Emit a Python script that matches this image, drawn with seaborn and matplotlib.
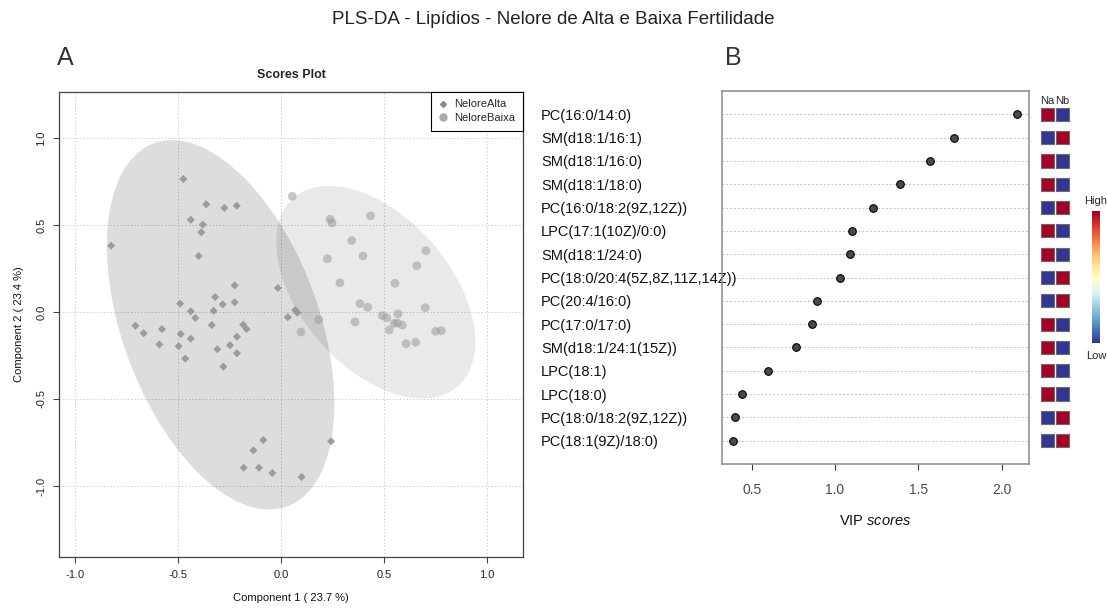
import numpy as np
import pandas as pd
import matplotlib
matplotlib.use("Agg")
import matplotlib.pyplot as plt
import seaborn as sns
from matplotlib.patches import Ellipse
from matplotlib.lines import Line2D
from matplotlib.cm import ScalarMappable
from matplotlib.colors import Normalize

# ---------------- data ----------------
groups = ["NeloreAlta", "NeloreBaixa"]

alta_x = [-0.474, -0.363, -0.275, -0.215, -0.438, -0.380, -0.387, -0.825, -0.400, -0.225,
          -0.320, -0.283, -0.225, -0.490, -0.438, -0.327, -0.416, -0.707, -0.667, -0.578,
          -0.336, -0.184, -0.167, -0.487, -0.438, -0.214, -0.591, -0.497, -0.309, -0.248,
          -0.214, -0.465, -0.280, -0.134, -0.181, -0.107, -0.015, 0.069, 0.079, 0.033,
          -0.086, -0.042, 0.100, 0.243]
alta_y = [0.764, 0.619, 0.598, 0.611, 0.530, 0.502, 0.458, 0.381, 0.322, 0.153,
          0.086, 0.044, 0.056, 0.048, 0.004, 0.007, -0.034, -0.079, -0.122, -0.098,
          -0.075, -0.073, -0.098, -0.126, -0.153, -0.142, -0.186, -0.197, -0.214, -0.191,
          -0.237, -0.268, -0.314, -0.795, -0.895, -0.895, 0.138, 0.011, -0.004, -0.030,
          -0.736, -0.925, -0.948, -0.743]

baixa_x = [0.055, 0.238, 0.248, 0.435, 0.343, 0.704, 0.225, 0.398, 0.659, 0.286,
           0.553, 0.383, 0.421, 0.700, 0.183, 0.097, 0.359, 0.492, 0.513, 0.568,
           0.550, 0.565, 0.589, 0.526, 0.607, 0.654, 0.751, 0.778]
baixa_y = [0.665, 0.533, 0.513, 0.553, 0.410, 0.352, 0.306, 0.322, 0.266, 0.168,
           0.165, 0.048, 0.027, 0.025, -0.044, -0.115, -0.057, -0.021, -0.033, -0.011,
           -0.065, -0.063, -0.075, -0.103, -0.182, -0.174, -0.111, -0.107]

score_ticks = [-1.0, -0.5, 0.0, 0.5, 1.0]
score_ticklabels = ["-1.0", "-0.5", "0.0", "0.5", "1.0"]

lipids = ["PC(16:0/14:0)", "SM(d18:1/16:1)", "SM(d18:1/16:0)", "SM(d18:1/18:0)",
          "PC(16:0/18:2(9Z,12Z))", "LPC(17:1(10Z)/0:0)", "SM(d18:1/24:0)",
          "PC(18:0/20:4(5Z,8Z,11Z,14Z))", "PC(20:4/16:0)", "PC(17:0/17:0)",
          "SM(d18:1/24:1(15Z))", "LPC(18:1)", "LPC(18:0)", "PC(18:0/18:2(9Z,12Z))",
          "PC(18:1(9Z)/18:0)"]
vip = [2.094, 1.712, 1.570, 1.390, 1.230, 1.102, 1.092, 1.032, 0.890, 0.864,
       0.764, 0.600, 0.444, 0.402, 0.390]
na_level = [1, 0, 1, 1, 0, 1, 1, 0, 0, 1, 1, 1, 1, 0, 0]
nb_level = [0, 1, 0, 0, 1, 0, 0, 1, 1, 0, 0, 0, 0, 1, 1]
heat_cols = ["Na", "Nb"]
vip_ticks = [0.5, 1.0, 1.5, 2.0]
vip_ticklabels = ["0.5", "1.0", "1.5", "2.0"]

# ---------------- style ----------------
sns.set_theme(style="white")
plt.rcParams["font.family"] = ["Liberation Sans", "DejaVu Sans"]
plt.rcParams["mathtext.fontset"] = "custom"
plt.rcParams["mathtext.rm"] = "Liberation Sans"
plt.rcParams["mathtext.it"] = "Liberation Sans:italic"

W, H = 1107, 609
fig = plt.figure(figsize=(W / 100, H / 100), dpi=100)


def rect(l, t, r, b):
    return [l / W, 1 - b / H, (r - l) / W, (b - t) / H]


def conf_ellipse(x, y, chi2=5.991):
    x = np.asarray(x)
    y = np.asarray(y)
    cov = np.cov(x, y)
    vals, vecs = np.linalg.eigh(cov)
    order = vals.argsort()[::-1]
    vals, vecs = vals[order], vecs[:, order]
    angle = np.degrees(np.arctan2(vecs[1, 0], vecs[0, 0]))
    w, h = 2 * np.sqrt(chi2 * vals)
    return (x.mean(), y.mean()), w, h, angle


fig.text(0.5, 1 - 20 / H, "PLS-DA - Lipídios - Nelore de Alta e Baixa Fertilidade",
         ha="center", va="center", fontsize=13.5, color="#222222")
fig.text(65 / W, 1 - 58 / H, "A", ha="center", va="center", fontsize=18, color="#333333")
fig.text(733 / W, 1 - 58 / H, "B", ha="center", va="center", fontsize=18, color="#333333")

# ---------------- Panel A ----------------
axA = fig.add_axes(rect(59, 91.7, 523, 557))
axA.set_xlim(-1.078, 1.175)
axA.set_ylim(-1.408, 1.266)

for xs, ys, a in [(alta_x, alta_y, 0.135), (baixa_x, baixa_y, 0.085)]:
    c, w, h, ang = conf_ellipse(xs, ys)
    axA.add_patch(Ellipse(c, w, h, angle=ang, facecolor="black", alpha=a,
                          edgecolor="none", zorder=1))

dfA = pd.DataFrame({"x": alta_x, "y": alta_y, "group": groups[0]})
dfB = pd.DataFrame({"x": baixa_x, "y": baixa_y, "group": groups[1]})
sns.scatterplot(data=dfA, x="x", y="y", marker="D", color="#959595", s=17,
                edgecolor="none", alpha=0.9, legend=False, ax=axA, zorder=3)
sns.scatterplot(data=dfB, x="x", y="y", marker="o", color="#9c9c9c", s=40,
                edgecolor="none", alpha=0.55, legend=False, ax=axA, zorder=3)

axA.set_xticks(score_ticks)
axA.set_xticklabels(score_ticklabels)
axA.set_yticks(score_ticks)
axA.set_yticklabels(score_ticklabels, rotation=90, va="center")
axA.grid(True, ls=(0, (1.5, 2)), color="#cfcfcf", lw=0.7, zorder=0)
axA.set_axisbelow(True)
axA.tick_params(axis="both", which="both", direction="out", length=4, width=0.8,
                color="#444444", labelsize=8, labelcolor="#222222",
                bottom=True, left=True, pad=5)
for sp in axA.spines.values():
    sp.set_color("#444444")
    sp.set_linewidth(0.9)
axA.set_xlabel("Component 1 ( 23.7 %)", fontsize=8, labelpad=10, color="#111111")
axA.set_ylabel("Component 2 ( 23.4 %)", fontsize=8, labelpad=9, color="#111111")
axA.set_title("Scores Plot", fontsize=9, fontweight="bold", pad=10)

handles = [Line2D([], [], marker="D", ls="", color="#8a8a8a", ms=3),
           Line2D([], [], marker="o", ls="", color="#ababab", ms=5)]
leg = axA.legend(handles, groups, loc="upper right", borderaxespad=0, fontsize=8,
                 frameon=True, fancybox=False, edgecolor="black", framealpha=1,
                 handlelength=0.8, handletextpad=0.6, borderpad=0.7,
                 labelspacing=0.3)
leg.get_frame().set_linewidth(0.8)

# ---------------- Panel B ----------------
axB = fig.add_axes(rect(722, 91, 1029, 464))
rows = np.arange(len(lipids))
dfV = pd.DataFrame({"vip": vip, "row": rows})
sns.scatterplot(data=dfV, x="vip", y="row", s=30, color="#4a4a4a",
                edgecolor="black", linewidth=0.8, legend=False, ax=axB, zorder=3)
axB.set_xlim(0.322, 2.164)
axB.set_ylim(len(lipids), -1)
axB.set_yticks(rows)
axB.set_yticklabels(lipids, ha="left")
axB.tick_params(axis="y", length=0, pad=(722 - 541) * 0.72, labelsize=10.5,
                labelcolor="#111111")
axB.set_xticks(vip_ticks)
axB.set_xticklabels(vip_ticklabels)
axB.tick_params(axis="x", bottom=True, direction="out", length=4, width=0.8,
                color="#333333", labelsize=10, labelcolor="#4d4d4d", pad=10)
axB.grid(True, axis="y", ls=(0, (2, 2)), color="#c4c4c4", lw=0.7)
axB.grid(False, axis="x")
axB.set_axisbelow(True)
for sp in axB.spines.values():
    sp.set_color("#8a8a8a")
    sp.set_linewidth(1.1)
axB.set_xlabel("VIP $\\mathit{scores}$", fontsize=10.5, labelpad=12, color="#111111")
axB.set_ylabel("")

# heat squares
cmap = plt.get_cmap("RdYlBu_r")
hax = fig.add_axes(rect(1032.7, 91, 1077.7, 464))
hax.set_xlim(-1, 2)
hax.set_ylim(len(lipids), -1)
for j, lev in enumerate([na_level, nb_level]):
    hax.scatter(np.full(len(rows), j), rows, marker="s", s=90,
                c=[cmap(float(v)) for v in lev], edgecolors="#6b6b6b",
                linewidths=0.8, zorder=3)
for sp in hax.spines.values():
    sp.set_visible(False)
hax.set_facecolor("none")
hax.set_yticks([])
hax.xaxis.set_ticks_position("top")
hax.set_xticks([0, 1])
hax.set_xticklabels(heat_cols)
hax.tick_params(axis="x", length=0, pad=-11, labelsize=8, top=True, bottom=False)

cax = fig.add_axes(rect(1092, 211, 1100, 343))
cb = fig.colorbar(ScalarMappable(norm=Normalize(0, 1), cmap=cmap), cax=cax)
cb.outline.set_visible(False)
cb.set_ticks([])
cax.text(0.5, 1.04, "High", transform=cax.transAxes, ha="center", va="bottom", fontsize=8)
cax.text(0.5, -0.06, "Low", transform=cax.transAxes, ha="center", va="top", fontsize=8)

fig.savefig("out.png", dpi=100)
